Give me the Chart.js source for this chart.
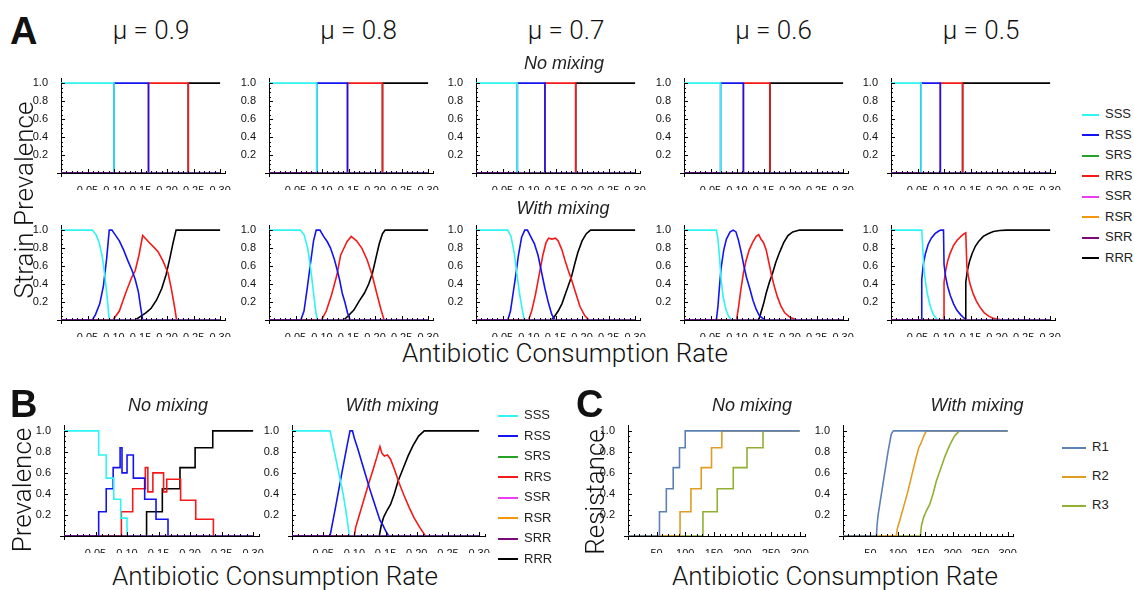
<!DOCTYPE html>
<html>
<head>
<meta charset="utf-8">
<script src="https://cdn.jsdelivr.net/npm/chart.js@4.4.0/dist/chart.umd.min.js"></script>
<style>
  body { margin: 0; background: #fff; }
  #fig { position: relative; width: 1134px; height: 590px; overflow: hidden; font-family: "Liberation Sans", Arial, sans-serif; }
  #fig canvas { position: absolute; }
  .lbl { position: absolute; white-space: nowrap; color: #111; transform: translate(-50%, -50%); }
  .big { font-family: Roboto, "Liberation Sans", sans-serif; font-weight: 300; font-size: 26px; }
  .rot { transform: translate(-50%, -50%) rotate(-90deg); }
  .sub { font-style: italic; font-size: 18px; color: #222; }
  .mu { font-family: Roboto, "Liberation Sans", sans-serif; font-weight: 300; font-size: 26px; }
  .letter { font-weight: bold; font-size: 38px; transform: none; }
  .leg { position: absolute; font-size: 13px; color: #222; white-space: nowrap; }
  .leg span { display: inline-block; vertical-align: middle; height: 2px; margin-right: 6px; }
</style>
</head>
<body>
<div id="fig"></div>
<script>
// ---- data ----
const muValues = [0.9, 0.8, 0.7, 0.6, 0.5];
const strains = ["SSS", "RSS", "SRS", "RRS", "SSR", "RSR", "SRR", "RRR"];
const strainColors = ["#2ef4f4", "#1414f0", "#26a326", "#f41a1a", "#f03cf0", "#f5960f", "#7a0a7a", "#000000"];
const resist = ["R1", "R2", "R3"];
const resistColors = ["#5e81b5", "#e19c24", "#8fb032"];

const rateTicks = [0, 0.05, 0.10, 0.15, 0.20, 0.25, 0.30];
const consTicks = [0, 50, 100, 150, 200, 250, 300];
const prevTicks = [0, 0.2, 0.4, 0.6, 0.8, 1.0];

// no mixing (panel A top): rate where SSS->RSS, RSS->RRS, RRS->RRR take over
const noMixSwitch = [
  [0.100, 0.165, 0.240],
  [0.090, 0.148, 0.214],
  [0.078, 0.130, 0.188],
  [0.069, 0.112, 0.162],
  [0.057, 0.093, 0.135]
];

// with mixing (panel A bottom), one set per mu
const mix09SSS = [[0,1],[0.059,1],[0.066,0.95],[0.072,0.86],[0.078,0.70],[0.083,0.48],[0.087,0.25],[0.091,0],[0.30,0]];
const mix09RSS = [[0,0],[0.059,0],[0.065,0.06],[0.073,0.18],[0.080,0.38],[0.086,0.68],[0.091,1.0],[0.096,1.0],[0.102,0.95],[0.110,0.88],[0.118,0.78],[0.126,0.66],[0.134,0.55],[0.140,0.45],[0.146,0.31],[0.150,0.15],[0.154,0],[0.30,0]];
const mix09RRS = [[0,0],[0.098,0],[0.110,0.10],[0.122,0.30],[0.133,0.47],[0.140,0.55],[0.147,0.72],[0.154,0.94],[0.165,0.87],[0.175,0.81],[0.183,0.76],[0.192,0.66],[0.202,0.52],[0.208,0.35],[0.214,0.15],[0.218,0],[0.30,0]];
const mix09RRR = [[0,0],[0.140,0],[0.150,0.04],[0.160,0.08],[0.170,0.13],[0.180,0.22],[0.190,0.35],[0.198,0.50],[0.205,0.68],[0.211,0.85],[0.217,1.0],[0.30,1.0]];

const mix08SSS = [[0,1],[0.059,1],[0.066,0.95],[0.073,0.80],[0.079,0.55],[0.084,0.30],[0.088,0.10],[0.091,0],[0.30,0]];
const mix08RSS = [[0,0],[0.060,0],[0.066,0.10],[0.072,0.35],[0.078,0.62],[0.084,0.88],[0.089,1.0],[0.096,1.0],[0.103,0.93],[0.110,0.87],[0.116,0.80],[0.123,0.68],[0.128,0.57],[0.133,0.45],[0.138,0.30],[0.143,0.20],[0.148,0.08],[0.153,0],[0.30,0]];
const mix08RRS = [[0,0],[0.099,0],[0.108,0.10],[0.118,0.28],[0.128,0.50],[0.135,0.72],[0.139,0.77],[0.147,0.87],[0.155,0.93],[0.165,0.88],[0.175,0.80],[0.185,0.67],[0.195,0.49],[0.203,0.30],[0.211,0.12],[0.217,0],[0.30,0]];
const mix08RRR = [[0,0],[0.141,0],[0.150,0.05],[0.160,0.11],[0.170,0.21],[0.180,0.30],[0.188,0.40],[0.195,0.52],[0.202,0.70],[0.208,0.85],[0.214,0.96],[0.219,1.0],[0.30,1.0]];

const mix07SSS = [[0,1],[0.060,1],[0.066,0.93],[0.072,0.75],[0.077,0.52],[0.082,0.30],[0.087,0.12],[0.091,0],[0.30,0]];
const mix07RSS = [[0,0],[0.060,0],[0.065,0.10],[0.070,0.30],[0.075,0.50],[0.080,0.72],[0.086,0.92],[0.092,1.0],[0.097,1.0],[0.103,0.93],[0.110,0.85],[0.117,0.72],[0.124,0.52],[0.130,0.35],[0.137,0.18],[0.143,0.06],[0.149,0],[0.30,0]];
const mix07RRS = [[0,0],[0.099,0],[0.105,0.10],[0.112,0.28],[0.119,0.50],[0.126,0.72],[0.132,0.86],[0.137,0.91],[0.143,0.90],[0.150,0.91],[0.155,0.88],[0.162,0.78],[0.168,0.66],[0.174,0.55],[0.180,0.45],[0.188,0.30],[0.196,0.15],[0.205,0.05],[0.213,0],[0.30,0]];
const mix07RRR = [[0,0],[0.142,0],[0.148,0.04],[0.155,0.10],[0.162,0.18],[0.168,0.28],[0.174,0.38],[0.180,0.48],[0.186,0.62],[0.192,0.75],[0.200,0.88],[0.208,0.96],[0.216,1.0],[0.30,1.0]];

const mix06SSS = [[0,1],[0.061,1],[0.064,0.90],[0.067,0.70],[0.070,0.45],[0.074,0.25],[0.079,0.12],[0.084,0.04],[0.090,0],[0.30,0]];
const mix06RSS = [[0,0],[0.061,0],[0.064,0.15],[0.067,0.38],[0.070,0.58],[0.075,0.78],[0.080,0.90],[0.087,0.98],[0.093,1.0],[0.098,0.98],[0.103,0.88],[0.108,0.75],[0.113,0.60],[0.118,0.47],[0.124,0.35],[0.130,0.22],[0.136,0.12],[0.142,0.05],[0.148,0.02],[0.154,0],[0.30,0]];
const mix06RRS = [[0,0],[0.099,0],[0.103,0.15],[0.107,0.33],[0.112,0.52],[0.117,0.66],[0.123,0.78],[0.130,0.87],[0.136,0.93],[0.141,0.95],[0.145,0.90],[0.150,0.86],[0.155,0.78],[0.160,0.64],[0.165,0.50],[0.170,0.38],[0.176,0.26],[0.183,0.15],[0.190,0.08],[0.200,0.03],[0.212,0],[0.30,0]];
const mix06RRR = [[0,0],[0.141,0],[0.145,0.08],[0.150,0.18],[0.155,0.30],[0.161,0.42],[0.167,0.52],[0.173,0.64],[0.180,0.75],[0.188,0.86],[0.196,0.94],[0.205,0.98],[0.218,1.0],[0.30,1.0]];

const mix05SSS = [[0,1],[0.058,1],[0.060,0.80],[0.062,0.58],[0.065,0.42],[0.068,0.31],[0.072,0.20],[0.076,0.12],[0.080,0.06],[0.085,0.02],[0.089,0],[0.30,0]];
const mix05RSS = [[0,0],[0.058,0],[0.058,0.45],[0.061,0.62],[0.065,0.74],[0.070,0.84],[0.076,0.91],[0.083,0.96],[0.090,0.99],[0.094,1.0],[0.099,1.0],[0.100,0.62],[0.103,0.48],[0.107,0.37],[0.112,0.27],[0.118,0.18],[0.124,0.11],[0.131,0.06],[0.138,0.02],[0.143,0],[0.30,0]];
const mix05RRS = [[0,0],[0.100,0],[0.100,0.42],[0.103,0.55],[0.107,0.66],[0.112,0.75],[0.118,0.83],[0.125,0.89],[0.132,0.93],[0.138,0.96],[0.141,0.97],[0.143,0.60],[0.146,0.48],[0.150,0.38],[0.155,0.29],[0.161,0.21],[0.168,0.14],[0.176,0.08],[0.185,0.04],[0.195,0.015],[0.210,0],[0.30,0]];
const mix05RRR = [[0,0],[0.141,0],[0.141,0.42],[0.144,0.55],[0.148,0.65],[0.153,0.74],[0.159,0.82],[0.166,0.88],[0.174,0.93],[0.183,0.96],[0.193,0.985],[0.205,0.995],[0.218,1.0],[0.30,1.0]];

// panel B, no mixing (stochastic, stepped)
const bNoSSS = [[0,1],[0.055,1],[0.055,0.77],[0.067,0.77],[0.067,0.55],[0.079,0.55],[0.079,0.35],[0.090,0.35],[0.090,0.17],[0.100,0.17],[0.100,0],[0.30,0]];
const bNoRSS = [[0,0],[0.055,0],[0.055,0.23],[0.067,0.23],[0.067,0.45],[0.078,0.45],[0.078,0.65],[0.089,0.65],[0.089,0.84],[0.092,0.84],[0.092,0.60],[0.100,0.60],[0.100,0.77],[0.110,0.77],[0.110,0.55],[0.128,0.55],[0.128,0.35],[0.146,0.35],[0.146,0.16],[0.165,0.16],[0.165,0],[0.30,0]];
const bNoRRS = [[0,0],[0.091,0],[0.091,0.23],[0.109,0.23],[0.109,0.45],[0.129,0.45],[0.129,0.65],[0.133,0.65],[0.133,0.42],[0.141,0.42],[0.141,0.60],[0.158,0.60],[0.158,0.42],[0.163,0.42],[0.163,0.54],[0.185,0.54],[0.185,0.34],[0.209,0.34],[0.209,0.16],[0.237,0.16],[0.237,0],[0.30,0]];
const bNoRRR = [[0,0],[0.131,0],[0.131,0.23],[0.156,0.23],[0.156,0.45],[0.184,0.45],[0.184,0.65],[0.208,0.65],[0.208,0.84],[0.236,0.84],[0.236,1],[0.30,1]];

// panel B, with mixing
const bMixSSS = [[0,1],[0.061,1],[0.068,0.80],[0.075,0.60],[0.082,0.40],[0.088,0.18],[0.092,0],[0.30,0]];
const bMixRSS = [[0,0],[0.061,0],[0.070,0.28],[0.080,0.60],[0.088,0.85],[0.093,1.0],[0.097,1.0],[0.100,0.93],[0.106,0.82],[0.112,0.70],[0.118,0.58],[0.124,0.46],[0.130,0.35],[0.136,0.24],[0.141,0.15],[0.146,0.10],[0.150,0.05],[0.155,0],[0.30,0]];
const bMixRRS = [[0,0],[0.100,0],[0.102,0.08],[0.108,0.20],[0.115,0.34],[0.122,0.48],[0.130,0.63],[0.136,0.75],[0.141,0.85],[0.144,0.79],[0.148,0.76],[0.153,0.77],[0.158,0.73],[0.165,0.62],[0.172,0.50],[0.180,0.38],[0.188,0.27],[0.196,0.17],[0.205,0.08],[0.214,0],[0.30,0]];
const bMixRRR = [[0,0],[0.140,0],[0.143,0.10],[0.147,0.18],[0.152,0.24],[0.158,0.30],[0.164,0.40],[0.170,0.52],[0.178,0.64],[0.186,0.76],[0.194,0.86],[0.203,0.95],[0.212,1.0],[0.30,1.0]];

// panel C, resistance to each drug
const cNoR1 = [[0,0],[55,0],[55,0.23],[67,0.23],[67,0.45],[79,0.45],[79,0.65],[90,0.65],[90,0.84],[100,0.84],[100,1],[300,1]];
const cNoR2 = [[0,0],[91,0],[91,0.23],[110,0.23],[110,0.45],[128,0.45],[128,0.65],[146,0.65],[146,0.84],[164,0.84],[164,1],[300,1]];
const cNoR3 = [[0,0],[131,0],[131,0.23],[156,0.23],[156,0.45],[184,0.45],[184,0.65],[208,0.65],[208,0.84],[236,0.84],[236,1],[300,1]];
const cMixR1 = [[0,0],[61,0],[62,0.10],[64,0.20],[70,0.40],[76,0.60],[82,0.80],[88,0.97],[92,1],[300,1]];
const cMixR2 = [[0,0],[97,0],[99,0.07],[103,0.14],[110,0.27],[118,0.42],[125,0.57],[132,0.72],[138,0.84],[142,0.88],[148,0.96],[152,1],[300,1]];
const cMixR3 = [[0,0],[141,0],[143,0.10],[147,0.18],[152,0.24],[158,0.30],[164,0.40],[170,0.52],[178,0.64],[186,0.76],[194,0.86],[203,0.95],[212,1],[300,1]];

// ---- drawing ----
const fig = document.getElementById("fig");
const YW = 30, XH = 17, PT = 5, PR = 6;

const axisTicks = {
  id: "axisTicks",
  afterDatasetsDraw(chart, args, o) {
    const { ctx, chartArea: a, scales: { x, y } } = chart;
    ctx.save();
    ctx.strokeStyle = "#000";
    ctx.lineWidth = 1;
    ctx.beginPath();
    for (let i = 1; i * o.dx <= x.max; i++) {
      const px = Math.round(x.getPixelForValue(i * o.dx)) + 0.5;
      const len = i % o.nx === 0 ? 4 : 2;
      ctx.moveTo(px, a.bottom); ctx.lineTo(px, a.bottom - len);
    }
    for (let i = 1; i * o.dy <= 1.0001; i++) {
      const py = Math.round(y.getPixelForValue(i * o.dy)) + 0.5;
      const len = i % o.ny === 0 ? 4 : 2;
      ctx.moveTo(a.left, py); ctx.lineTo(a.left + len, py);
    }
    ctx.moveTo(a.left - 4, Math.round(a.bottom) + 0.5); ctx.lineTo(a.left, Math.round(a.bottom) + 0.5);
    ctx.moveTo(Math.round(a.left) + 0.5, a.bottom); ctx.lineTo(Math.round(a.left) + 0.5, a.bottom + 4);
    ctx.stroke();
    ctx.restore();
  }
};

function label(text, cls, x, y) {
  const d = document.createElement("div");
  d.className = "lbl " + cls;
  d.textContent = text;
  d.style.left = x + "px";
  d.style.top = y + "px";
  fig.appendChild(d);
}

function plot(p) {
  const w = p.xmax * p.sx, h = 1.05 * p.sy;
  const cv = document.createElement("canvas");
  cv.width = Math.round(YW + w + PR);
  cv.height = Math.round(PT + h + XH);
  cv.style.left = Math.round(p.x0 - YW) + "px";
  cv.style.top = Math.round(p.y0 - h - PT) + "px";
  fig.appendChild(cv);
  const tickFont = { size: 11, family: "Liberation Sans" };
  new Chart(cv, {
    type: "line",
    data: { datasets: p.series },
    options: {
      responsive: false, animation: false, devicePixelRatio: 1,
      layout: { padding: { top: PT, right: PR, left: 0, bottom: 0 } },
      plugins: { legend: { display: false }, tooltip: { enabled: false },
        axisTicks: { dx: p.dx, nx: p.nx, dy: 0.05, ny: 4 } },
      elements: { point: { radius: 0 }, line: { borderWidth: p.lw || 1.6, tension: 0 } },
      scales: {
        x: {
          type: "linear", min: 0, max: p.xmax,
          afterBuildTicks: s => { s.ticks = p.xTicks.map(v => ({ value: v })); },
          afterFit: s => { s.height = XH; },
          grid: { display: false }, border: { color: "#000", width: 1 },
          ticks: { callback: v => v === 0 ? "" : p.fmt(v), font: tickFont, color: "#111", padding: 3, maxRotation: 0, autoSkip: false }
        },
        y: {
          type: "linear", min: 0, max: 1.05,
          afterBuildTicks: s => { s.ticks = prevTicks.map(v => ({ value: v })); },
          afterFit: s => { s.width = YW; },
          grid: { display: false }, border: { color: "#000", width: 1 },
          ticks: { callback: v => v === 0 ? "" : v.toFixed(1), font: tickFont, color: "#111", padding: 5, autoSkip: false }
        }
      }
    },
    plugins: [axisTicks]
  });
}

const zeroLine = [[0, 0], [0.30, 0]];
function strainSets(sss, rss, rrs, rrr) {
  const vals = [sss, rss, zeroLine, rrs, zeroLine, zeroLine, zeroLine, rrr];
  return vals.map((d, i) => ({
    label: strains[i], data: d, borderColor: strainColors[i],
    order: strains[i] === "SRR" ? -1 : 0
  }));
}
function stepSets(sw) {
  const [a, b, c] = sw;
  return strainSets(
    [[0,1],[a,1],[a,0],[0.30,0]],
    [[0,0],[a,0],[a,1],[b,1],[b,0],[0.30,0]],
    [[0,0],[b,0],[b,1],[c,1],[c,0],[0.30,0]],
    [[0,0],[c,0],[c,1],[0.30,1]]
  );
}

const rateFmt = v => v.toFixed(2);
const colX = [61, 268.5, 476, 683.5, 891];
const mixSets = [
  [mix09SSS, mix09RSS, mix09RRS, mix09RRR],
  [mix08SSS, mix08RSS, mix08RRS, mix08RRR],
  [mix07SSS, mix07RSS, mix07RRS, mix07RRR],
  [mix06SSS, mix06RSS, mix06RRS, mix06RRR],
  [mix05SSS, mix05RSS, mix05RRS, mix05RRR]
];

muValues.forEach((mu, i) => {
  const base = { x0: colX[i], sx: 540, sy: 96, xmax: 0.31, xTicks: rateTicks, fmt: rateFmt, dx: 0.01, nx: 5 };
  plot(Object.assign({}, base, { y0: 173, series: stepSets(noMixSwitch[i]) }));
  plot(Object.assign({}, base, { y0: 320, series: strainSets(...mixSets[i]) }));
  label("\u03bc = " + mu.toFixed(1), "mu", colX[i] + 90, 30);
});

// panel B
plot({ x0: 64, y0: 536, sx: 635, sy: 111, xmax: 0.31, xTicks: rateTicks, fmt: rateFmt, dx: 0.01, nx: 5,
  series: strainSets(bNoSSS, bNoRSS, bNoRRS, bNoRRR) });
plot({ x0: 292, y0: 536, sx: 630, sy: 111, xmax: 0.31, xTicks: rateTicks, fmt: rateFmt, dx: 0.01, nx: 5,
  series: strainSets(bMixSSS, bMixRSS, bMixRRS, bMixRRR) });

// panel C
function resistSets(list) {
  return list.map((d, i) => ({ label: resist[i], data: d, borderColor: resistColors[i] }));
}
plot({ x0: 628, y0: 536, sx: 0.575, sy: 111, xmax: 310, xTicks: consTicks, fmt: v => String(v), dx: 10, nx: 5,
  series: resistSets([cNoR1, cNoR2, cNoR3]) });
plot({ x0: 843, y0: 536, sx: 0.55, sy: 111, xmax: 310, xTicks: consTicks, fmt: v => String(v), dx: 10, nx: 5,
  series: resistSets([cMixR1, cMixR2, cMixR3]) });

// text
label("A", "letter", 10, 10);
label("B", "letter", 10, 383);
label("C", "letter", 576, 383);
label("No mixing", "sub", 564, 63);
label("With mixing", "sub", 563, 208);
label("No mixing", "sub", 168, 405);
label("With mixing", "sub", 392, 405);
label("No mixing", "sub", 752, 405);
label("With mixing", "sub", 977, 405);
label("Strain Prevalence", "big rot", 24, 200);
label("Antibiotic Consumption Rate", "big", 565, 353);
label("Prevalence", "big rot", 22, 490);
label("Antibiotic Consumption Rate", "big", 275, 576);
label("Resistance", "big rot", 595, 492);
label("Antibiotic Consumption Rate", "big", 835, 576);

function legend(names, colors, x, y, step, lineW) {
  names.forEach((n, i) => {
    const d = document.createElement("div");
    d.className = "leg";
    d.style.left = x + "px";
    d.style.top = (y + i * step - 9) + "px";
    const s = document.createElement("span");
    s.style.width = lineW + "px";
    s.style.background = colors[i];
    d.appendChild(s);
    d.appendChild(document.createTextNode(n));
    fig.appendChild(d);
  });
}
legend(strains, strainColors, 1082, 115, 20.5, 17);
legend(strains, strainColors, 498, 416, 20.5, 20);
legend(resist, resistColors, 1062, 448, 29, 24);
</script>
</body>
</html>
